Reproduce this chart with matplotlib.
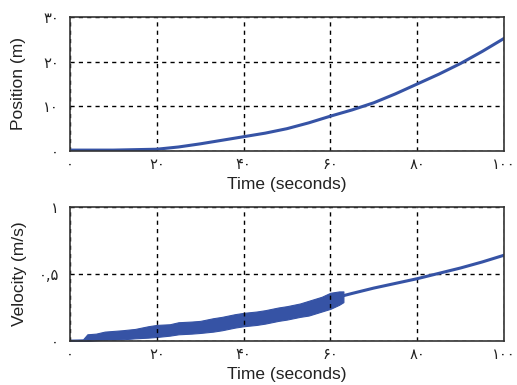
import matplotlib
matplotlib.use("Agg")
import matplotlib.pyplot as plt

# ---- data ----
pos_t = [0, 10, 20, 25, 30, 35, 40, 45, 50, 55, 60, 65, 70, 75, 80, 85, 90, 95, 100]
pos_m = [0.2, 0.2, 0.4, 0.9, 1.6, 2.4, 3.2, 4.0, 5.0, 6.3, 7.8, 9.2, 10.8, 12.8, 15.0, 17.2, 19.6, 22.3, 25.2]

# noisy velocity band (envelope) up to ~63 s
band_t = [0, 3, 4, 6, 8, 10, 12, 15, 18, 20, 23, 25, 28, 30, 33, 35, 38, 40, 43, 45, 48, 50, 53, 55, 58, 60, 62, 63]
band_low = [0.0, 0.0, 0.0, 0.005, 0.01, 0.01, 0.012, 0.02, 0.025, 0.03, 0.04, 0.05, 0.055, 0.06, 0.07, 0.08, 0.1, 0.11, 0.12, 0.13, 0.15, 0.16, 0.18, 0.19, 0.22, 0.24, 0.27, 0.29]
band_high = [0.01, 0.012, 0.05, 0.055, 0.07, 0.075, 0.08, 0.09, 0.11, 0.12, 0.125, 0.14, 0.145, 0.15, 0.17, 0.18, 0.2, 0.21, 0.22, 0.23, 0.25, 0.26, 0.28, 0.3, 0.33, 0.36, 0.37, 0.37]
# smooth velocity afterwards
vel_t = [62, 65, 70, 75, 80, 85, 90, 95, 100]
vel_v = [0.33, 0.355, 0.395, 0.43, 0.465, 0.505, 0.545, 0.59, 0.64]

x_ticks = [0, 20, 40, 60, 80, 100]
x_labels = ["۰", "۲۰", "۴۰", "۶۰", "۸۰", "۱۰۰"]
pos_ticks = [0, 10, 20, 30]
pos_labels = ["۰", "۱۰", "۲۰", "۳۰"]
vel_ticks = [0, 0.5, 1]
vel_labels = ["۰", "۰,۵", "۱"]

color = "#3653a5"
W, H = 517, 385
fig = plt.figure(figsize=(W / 100, H / 100), dpi=100)

def make_axes(top_px, bot_px):
    left, right = 70, 504
    return fig.add_axes([left / W, 1 - bot_px / H, (right - left) / W, (bot_px - top_px) / H])

ax1 = make_axes(17, 151)
ax2 = make_axes(207, 341)

label_font = dict(family=["Liberation Sans", "DejaVu Sans"], size=12.5, color="#222222")
tick_font = dict(family=["DejaVu Sans"], fontsize=10.5)

for ax in (ax1, ax2):
    ax.set_xlim(0, 100)
    ax.set_xticks(x_ticks)
    ax.set_xticklabels(x_labels, **tick_font)
    ax.grid(True, color="black", linestyle=(0, (3, 3)), linewidth=1.0)
    ax.tick_params(direction="in", length=0, pad=4, colors="#222222")
    for s in ax.spines.values():
        s.set_color("#333333")
        s.set_linewidth(1.2)
    ax.set_xlabel("Time (seconds)", labelpad=4, **label_font)

ax1.plot(pos_t, pos_m, color=color, linewidth=2.2)
ax1.set_ylim(0, 30)
ax1.set_yticks(pos_ticks)
ax1.set_yticklabels(pos_labels, **tick_font)
ax1.tick_params(axis="y", pad=8)
ax1.set_ylabel("Position (m)", labelpad=12, **label_font)

ax2.fill_between(band_t, band_low, band_high, color=color, linewidth=0.8, edgecolor=color)
ax2.plot(vel_t, vel_v, color=color, linewidth=2.2)
ax2.set_ylim(0, 1)
ax2.set_yticks(vel_ticks)
ax2.set_yticklabels(vel_labels, **tick_font)
ax2.tick_params(axis="y", pad=8)
ax2.set_ylabel("Velocity (m/s)", labelpad=8, **label_font)

fig.savefig("out.png", dpi=100)
